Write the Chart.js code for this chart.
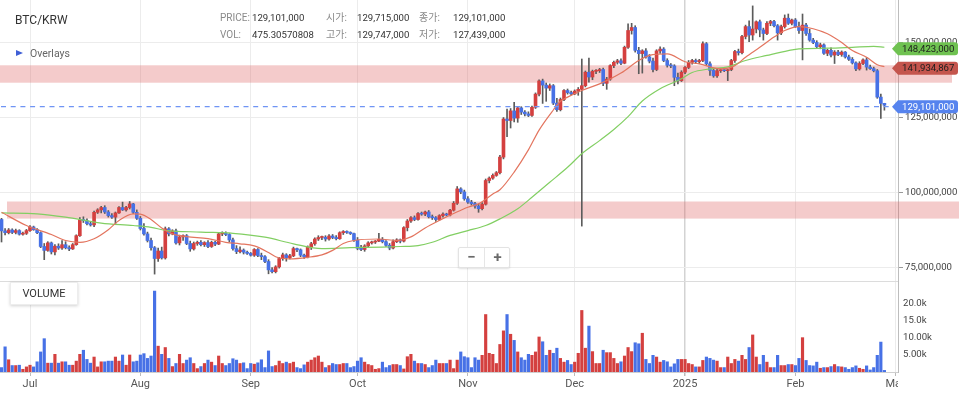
<!DOCTYPE html>
<html><head><meta charset="utf-8">
<script src="https://cdn.jsdelivr.net/npm/chart.js@4/dist/chart.umd.min.js"></script>
<style>
body{margin:0;background:#fff;width:966px;height:396px;overflow:hidden;position:relative;font-family:Roboto,'Noto Sans CJK KR',sans-serif}
#pw{position:absolute;left:0;top:0;width:966px;height:281px}
#vw{position:absolute;left:0;top:281px;width:966px;height:115px}
.t{position:absolute;white-space:nowrap;line-height:12px}
.lb{color:#8a8a8a;font-size:10px}
.vl{color:#333;font-size:9.6px}
#zoombox{position:absolute;left:458px;top:247px;width:50px;height:19px;background:#fff;border:1px solid #e3e3e3;border-radius:2px;box-shadow:0 1px 2px rgba(0,0,0,.12)}
#zoombox span{position:absolute;top:0;width:25px;text-align:center;line-height:19px;font-size:15px;font-weight:bold;color:#6a6a6a}
#volbox{position:absolute;left:10px;top:282px;width:66px;height:21px;background:#fff;border:1px solid #ededed;box-shadow:0 1px 3px rgba(0,0,0,.18);font-size:11px;color:#333;text-align:center;line-height:21px}
</style></head><body>
<div id="pw"><canvas id="price" width="966" height="281"></canvas></div>
<div id="vw"><canvas id="vol" width="966" height="115"></canvas></div>

<div class="t" style="left:15px;top:13px;font-size:12px;color:#333;line-height:14px">BTC/KRW</div>
<div class="t lb" style="left:220px;top:12px">PRICE:</div>
<div class="t vl" style="left:252px;top:12px">129,101,000</div>
<div class="t lb" style="left:326px;top:12px">시가:</div>
<div class="t vl" style="left:357px;top:12px">129,715,000</div>
<div class="t lb" style="left:419px;top:12px">종가:</div>
<div class="t vl" style="left:453px;top:12px">129,101,000</div>
<div class="t lb" style="left:220px;top:29px">VOL:</div>
<div class="t vl" style="left:252px;top:29px">475.30570808</div>
<div class="t lb" style="left:326px;top:29px">고가:</div>
<div class="t vl" style="left:357px;top:29px">129,747,000</div>
<div class="t lb" style="left:419px;top:29px">저가:</div>
<div class="t vl" style="left:453px;top:29px">127,439,000</div>
<div style="position:absolute;left:16px;top:50px;width:0;height:0;border-left:7px solid #3f5fd6;border-top:3.5px solid transparent;border-bottom:3.5px solid transparent"></div>
<div class="t" style="left:30px;top:48px;font-size:10.5px;color:#666">Overlays</div>
<div id="zoombox"><span style="left:0">−</span><span style="left:25px;border-left:1px solid #e6e6e6">+</span></div>
<div id="volbox">VOLUME</div>

<script>
// ---- dates ----
const startDate = '2024-06-23';
const monthStarts = ['2024-07-01','2024-08-01','2024-09-01','2024-10-01','2024-11-01','2024-12-01','2025-01-01','2025-02-01','2025-03-01'];
const monthLabels = ['Jul','Aug','Sep','Oct','Nov','Dec','2025','Feb','Mar'];
const yearStart = '2025-01-01';

// ---- daily OHLC (million KRW), 2024-06-23 .. 2025-02-26 ----
const opens = [
91.0,87.2,86.6,87.5,86.7,87.3,86.1,86.4,87.3,88.5,
87.6,86.6,82.0,80.7,83.2,80.2,82.1,81.5,82.6,81.6,
81.2,82.6,85.6,91.0,90.6,89.6,89.2,93.4,94.2,95.0,
93.5,92.3,91.8,93.2,95.0,94.2,95.0,96.2,93.4,91.4,
88.0,86.2,84.0,81.6,78.0,80.5,78.2,87.9,86.2,87.2,
83.2,85.2,85.6,83.0,81.2,83.0,83.4,82.6,83.3,82.0,
83.4,82.8,86.2,86.4,86.0,84.2,81.3,80.3,80.8,80.1,
79.7,79.1,81.0,79.0,78.6,77.0,74.2,73.6,75.2,78.0,
79.2,78.3,78.9,81.3,80.9,79.1,78.6,81.8,82.9,84.5,
85.0,85.1,84.5,85.5,85.0,84.6,86.6,87.0,86.7,86.3,
84.1,81.4,81.0,82.2,83.2,83.5,83.8,84.4,83.6,82.4,
81.5,83.6,84.2,83.8,88.3,90.5,91.6,91.0,93.0,92.8,
93.5,91.9,91.6,91.0,92.3,92.8,92.5,94.1,96.4,101.2,
100.2,97.9,96.8,96.3,95.5,94.6,96.1,104.0,104.8,105.7,
106.6,111.8,124.5,124.0,127.2,124.8,128.2,126.8,126.2,125.7,
128.4,132.8,137.2,135.8,134.8,135.6,129.8,127.6,131.0,134.0,
133.3,132.9,133.8,134.4,135.6,140.1,138.5,140.4,140.6,141.0,
136.4,137.8,142.3,143.4,143.9,143.1,148.4,154.0,155.0,147.4,
146.3,147.2,145.2,143.8,141.0,147.2,147.8,144.0,142.4,142.2,
138.4,137.3,140.1,141.7,143.4,144.0,143.6,144.0,149.6,142.9,
140.7,138.9,140.6,140.9,140.6,141.0,144.0,147.0,146.6,152.0,
155.3,152.5,154.5,156.9,154.2,153.0,156.4,157.0,155.6,153.2,
155.3,158.1,156.4,157.5,155.3,154.0,155.8,153.0,150.8,150.0,
148.6,149.2,146.4,147.4,145.8,146.8,146.0,146.8,145.2,144.4,
143.2,141.2,143.0,144.2,141.8,141.3,140.6,131.8,129.715];
const highs = [
91.4,88.0,88.0,87.9,87.8,87.6,86.8,87.7,89.0,88.8,
88.0,86.9,83.0,83.6,83.5,82.6,82.9,84.0,83.6,82.2,
83.0,85.9,91.6,91.9,91.2,90.4,93.8,94.6,95.4,95.6,
94.0,93.0,93.5,95.3,96.8,95.4,97.0,96.4,94.2,92.0,
89.6,86.8,84.8,82.0,81.5,81.8,88.5,88.3,87.6,87.8,
85.8,85.9,86.0,83.8,83.5,83.8,84.0,83.6,84.0,83.8,
83.8,86.6,86.9,86.9,86.3,84.8,82.3,81.9,81.2,80.5,
80.0,81.3,81.3,79.8,79.0,77.6,75.0,75.6,78.4,79.8,
79.6,79.4,81.8,81.5,81.2,79.5,82.2,83.4,84.9,85.6,
85.5,85.6,86.0,86.0,85.6,86.9,87.3,87.2,86.9,86.5,
85.0,82.4,82.6,83.6,83.8,84.0,86.4,85.0,84.0,83.0,
84.2,84.6,84.5,88.6,91.0,92.0,92.2,93.3,93.5,93.8,
94.0,92.5,92.0,92.6,93.2,93.1,94.4,97.0,102.0,101.6,
100.8,98.6,97.4,96.7,96.2,96.6,104.5,105.2,106.2,107.0,
112.4,125.0,127.8,128.0,130.1,128.6,128.6,127.3,126.9,128.8,
133.2,137.6,137.8,136.5,136.2,136.0,131.4,131.5,134.3,134.5,
133.8,134.2,135.0,144.5,140.5,144.8,140.8,141.0,141.4,141.5,
138.4,142.6,143.8,144.4,144.6,148.8,156.2,156.4,155.6,148.4,
147.6,148.0,146.0,144.8,147.6,148.6,148.3,144.6,143.0,142.6,
139.8,140.6,142.0,144.0,144.4,144.5,144.4,150.2,150.0,143.6,
141.2,141.4,141.2,141.4,141.0,144.4,147.4,147.8,152.4,155.8,
157.2,162.2,157.2,157.5,154.8,157.0,157.4,157.4,156.0,155.8,
159.2,159.5,157.8,158.0,156.8,159.5,156.4,154.4,151.4,150.6,
149.8,149.6,147.8,148.2,147.3,147.4,147.2,147.0,145.8,145.0,
143.6,143.6,144.6,145.0,142.5,141.8,141.0,132.8,129.747];
const lows = [
83.5,85.9,86.2,86.3,86.2,85.8,85.8,86.0,87.0,87.4,
86.3,81.6,77.6,80.4,79.5,79.2,81.0,81.0,81.2,80.6,
81.0,82.4,85.4,90.0,89.2,88.8,88.6,93.0,93.2,93.0,
91.8,91.4,89.5,93.0,94.0,93.8,94.5,93.0,91.0,87.5,
85.8,83.5,80.8,72.8,77.0,77.8,77.8,85.5,85.9,82.8,
82.5,84.0,82.6,80.4,80.8,82.4,82.2,82.0,81.6,81.7,
82.3,82.6,85.6,85.6,83.5,80.8,79.6,79.9,79.5,79.4,
78.8,78.7,78.6,77.6,76.6,72.9,73.2,73.2,74.8,77.4,
77.1,77.9,78.6,80.3,78.6,78.0,78.2,81.0,82.4,84.0,
84.3,83.8,84.1,84.6,84.2,84.4,86.0,86.4,86.0,83.7,
80.9,80.6,80.4,81.9,82.8,83.0,83.6,83.2,82.0,80.9,
81.2,83.3,83.2,83.5,87.2,90.0,90.6,90.8,92.4,92.3,
91.5,91.0,90.4,90.8,91.8,92.2,92.2,93.8,96.0,99.6,
97.4,96.4,95.8,94.8,93.4,94.2,95.8,103.2,104.4,105.4,
106.2,111.2,118.6,121.5,123.5,123.4,126.0,125.5,125.3,125.4,
128.0,132.2,129.7,130.4,134.0,129.3,127.0,127.2,130.6,132.8,
132.5,132.6,132.4,88.8,135.2,136.8,137.6,139.6,140.0,135.6,
134.4,137.4,141.6,142.8,142.6,142.9,148.0,152.8,146.8,139.6,
139.8,144.8,143.2,140.2,140.6,146.4,143.6,141.8,141.6,135.6,
136.2,137.0,139.6,141.3,142.8,143.0,143.0,143.6,142.4,139.0,
138.4,138.4,140.0,140.3,137.3,140.6,143.4,145.8,146.2,151.2,
150.3,150.8,153.2,151.9,150.8,152.6,155.6,155.2,150.8,152.6,
154.8,156.0,155.9,155.0,153.0,144.2,152.4,150.4,149.6,148.2,
147.9,146.0,145.6,145.2,143.0,145.6,145.4,144.8,144.0,142.8,
140.6,140.8,142.6,140.8,141.0,140.2,131.4,124.7,127.439];
const closes = [
87.2,86.6,87.5,86.7,87.3,86.1,86.4,87.3,88.5,87.6,
86.6,82.0,80.7,83.2,80.2,82.1,81.5,82.6,81.6,81.2,
82.6,85.6,91.0,90.6,89.6,89.2,93.4,94.2,95.0,93.5,
92.3,91.8,93.2,95.0,94.2,95.0,96.2,93.4,91.4,88.0,
86.2,84.0,81.6,78.0,80.5,78.2,87.9,86.2,87.2,83.2,
85.2,85.6,83.0,81.2,83.0,83.4,82.6,83.3,82.0,83.4,
82.8,86.2,86.4,86.0,84.2,81.3,80.3,80.8,80.1,79.7,
79.1,81.0,79.0,78.6,77.0,74.2,73.6,75.2,78.0,79.2,
78.3,78.9,81.3,80.9,79.1,78.6,81.8,82.9,84.5,85.0,
85.1,84.5,85.5,85.0,84.6,86.6,87.0,86.7,86.3,84.1,
81.4,81.0,82.2,83.2,83.5,83.8,84.4,83.6,82.4,81.5,
83.6,84.2,83.8,88.3,90.5,91.6,91.0,93.0,92.8,93.5,
91.9,91.6,91.0,92.3,92.8,92.5,94.1,96.4,101.2,100.2,
97.9,96.8,96.3,95.5,94.6,96.1,104.0,104.8,105.7,106.6,
111.8,124.5,124.0,127.2,124.8,128.2,126.8,126.2,125.7,128.4,
132.8,137.2,135.8,134.8,135.6,129.8,127.6,131.0,134.0,133.3,
132.9,133.8,134.4,135.6,140.1,138.5,140.4,140.6,141.0,136.4,
137.8,142.3,143.4,143.9,143.1,148.4,154.0,155.0,147.4,146.3,
147.2,145.2,143.8,141.0,147.2,147.8,144.0,142.4,142.2,138.4,
137.3,140.1,141.7,143.4,144.0,143.6,144.0,149.6,142.9,140.7,
138.9,140.6,140.9,140.6,140.8,144.0,147.0,146.6,152.0,155.3,
152.5,154.5,156.9,154.2,153.0,156.4,157.0,155.6,153.2,155.3,
158.1,156.4,157.5,155.3,154.0,155.8,153.0,150.8,150.0,148.6,
149.2,146.4,147.4,145.8,146.8,146.0,146.8,145.2,144.4,143.2,
141.2,143.0,144.2,141.8,141.3,140.6,131.8,129.7,129.101];
// ---- daily volume (thousand BTC) ----
const volumes = [
1.3,7.4,3.6,1.9,1.9,2.0,0.8,1.5,2.0,1.5,
3.0,5.9,9.8,2.6,2.6,5.2,2.6,3.0,3.0,2.0,
2.0,3.2,5.2,6.4,3.7,2.6,4.4,1.5,3.0,3.0,
3.2,3.2,4.4,3.2,5.0,2.0,5.0,3.0,3.2,5.0,
5.4,4.0,4.7,23.8,7.6,5.2,7.2,4.0,1.6,2.5,
5.2,2.5,3.5,4.2,2.5,1.0,1.6,2.5,3.5,2.9,
1.9,4.7,2.5,1.9,2.5,3.9,3.5,2.5,2.7,1.0,
2.5,2.3,2.7,3.6,1.3,6.2,1.6,1.9,3.2,2.5,
2.9,2.5,2.9,1.3,1.0,2.1,2.9,3.5,4.2,4.7,
2.9,1.3,1.9,2.5,2.2,2.2,2.5,2.5,1.3,1.6,
3.2,4.2,2.9,2.2,1.9,0.8,1.0,2.9,1.3,1.9,
2.2,2.2,1.9,0.9,4.5,5.2,3.2,2.5,2.5,2.2,
1.3,1.9,3.5,2.5,2.5,2.5,3.5,1.0,3.5,5.9,
4.5,4.2,1.3,4.2,3.5,4.9,16.9,5.5,5.2,2.5,
8.1,12.1,16.9,11.1,9.3,5.9,4.2,3.5,5.2,4.9,
5.9,10.3,8.9,4.9,6.4,5.5,7.0,4.0,2.9,3.4,
2.2,2.9,5.5,18.1,7.0,13.5,6.0,2.5,2.5,6.4,
5.7,5.7,4.0,2.5,3.0,4.7,7.2,6.0,8.6,8.3,
11.4,3.7,2.5,4.9,4.4,2.9,3.4,3.0,1.5,2.4,
3.7,3.7,3.7,2.5,2.2,1.5,1.5,3.4,4.4,4.0,
3.5,3.2,1.3,1.3,4.4,2.5,3.7,3.2,4.9,3.7,
7.2,10.9,4.4,2.2,4.9,2.9,1.3,1.3,4.9,1.9,
1.9,2.2,2.2,1.9,4.0,10.1,3.4,1.9,1.8,2.9,
1.1,1.3,1.3,1.6,2.2,1.6,1.5,1.3,0.8,1.3,
1.8,1.1,0.8,1.8,0.6,1.3,4.9,8.8,0.475];

// ---- moving averages (day index from start, million KRW) ----
const maShortDays = [0,7,14,18,22,26,30,33,37,39,42,45,48,52,58,63,67,71,75,77,81,86,90,93,96,99,106,111,115,119,123,127,131,134,138,140,144,148,151,155,157,159,163,168,174,179,182,187,192,196,202,206,209,213,217,220,224,228,232,236,239,243,246,248];
const maShortValues = [93.4,89.0,86.0,84.0,83.4,84.6,87.6,90.7,92.9,92.8,91.0,88.2,86.2,85.3,84.6,83.4,82.9,82.2,80.0,78.6,77.9,78.4,79.2,80.7,83.0,84.0,84.5,84.0,85.2,88.2,90.7,93.0,95.1,96.2,99.5,100.9,106.8,114.2,120.8,127.5,130.4,131.8,134.0,136.2,139.8,144.0,145.7,146.2,143.6,142.9,141.2,142.3,145.1,148.4,151.8,154.0,155.3,154.6,152.9,150.0,147.3,145.1,142.6,141.934867];
const maLongDays = [0,10,18,28,37,42,46,56,65,74,82,90,98,107,112,117,121,126,131,136,140,145,149,154,159,163,168,172,176,180,185,191,194,199,204,209,215,221,224,232,239,245,248];
const maLongValues = [93.2,92.9,91.8,89.8,89.0,88.4,87.4,86.8,86.4,85.1,82.9,81.3,81.6,81.8,82.0,82.3,83.4,85.7,87.3,89.0,91.2,94.6,98.4,103.4,108.4,112.9,117.3,121.0,125.3,130.5,134.6,137.9,140.0,141.2,141.9,144.0,145.7,147.3,147.9,148.1,148.4,148.7,148.423];

// ---- zones / ticks ----
const zoneLows = [136.6, 91.3];
const zoneHighs = [142.4, 97.0];
const priceTicks = [75, 100, 125, 150];
const volTicks = [5, 10, 15, 20];
const volTickLabels = ['5.00k', '10.00k', '15.0k', '20.0k'];

// ---- helpers ----
const DAY = 86400000;
const dayIndex = s => Math.round((Date.parse(s) - Date.parse(startDate)) / DAY);
const monthDays = monthStarts.map(dayIndex);
const yearDay = dayIndex(yearStart);
const X_MIN = -0.427, X_MAX = 251.82;
const RED = '#d4403f', BLUE = '#4771e6';
const candleColors = closes.map((c, i) => c >= opens[i] ? RED : BLUE);
const fmt = v => Math.round(v * 1e6).toLocaleString('en-US');
const AXIS_W = 68;

function xScale(drawTicks) {
  return {
    type: 'linear', min: X_MIN, max: X_MAX, offset: false, position: 'bottom',
    grid: { offset: false, drawTicks: drawTicks, tickLength: 4, tickColor: '#bbb',
      color: c => (c.tick && c.tick.value === yearDay) ? '#d3d3d3' : '#ececec',
      lineWidth: c => (c.tick && c.tick.value === yearDay) ? 1.5 : 1 },
    border: { display: drawTicks, color: '#cfcfcf' },
    ticks: { display: false },
    afterBuildTicks: s => { s.ticks = monthDays.map(v => ({ value: v })); },
    afterFit: s => { s.height = drawTicks ? 24 : 0; s.paddingLeft = 0; s.paddingRight = 0; }
  };
}
function yFit(s) { s.width = AXIS_W; s.paddingTop = 0; s.paddingBottom = 0; }

const zonesPlugin = {
  id: 'zones',
  beforeDatasetsDraw(chart) {
    const ctx = chart.ctx, ys = chart.scales.y;
    ctx.save();
    ctx.fillStyle = 'rgba(222,92,92,0.32)';
    const lefts = [0, 7], rights = [952, 959];
    zoneLows.forEach((lo, k) => {
      const y1 = ys.getPixelForValue(zoneHighs[k]), y2 = ys.getPixelForValue(lo);
      ctx.fillRect(lefts[k], y1, rights[k] - lefts[k], y2 - y1);
    });
    ctx.restore();
  },
  afterDatasetsDraw(chart) {
    const ctx = chart.ctx, ys = chart.scales.y;
    const y = ys.getPixelForValue(closes[closes.length - 1]) + 1.5;
    ctx.save();
    ctx.strokeStyle = '#6f94f4'; ctx.lineWidth = 1.2; ctx.setLineDash([5, 4.7]);
    ctx.beginPath(); ctx.moveTo(1, y); ctx.lineTo(892, y); ctx.stroke();
    ctx.restore();
  }
};

function drawTag(ctx, y, text, bg, fg) {
  const x0 = 892, x1 = 898, x2 = 958, h = 13, r = 3;
  ctx.beginPath();
  ctx.moveTo(x0, y);
  ctx.lineTo(x1, y - h / 2);
  ctx.lineTo(x2 - r, y - h / 2);
  ctx.quadraticCurveTo(x2, y - h / 2, x2, y - h / 2 + r);
  ctx.lineTo(x2, y + h / 2 - r);
  ctx.quadraticCurveTo(x2, y + h / 2, x2 - r, y + h / 2);
  ctx.lineTo(x1, y + h / 2);
  ctx.closePath();
  ctx.fillStyle = bg; ctx.fill();
  ctx.fillStyle = fg; ctx.font = '9.6px Roboto'; ctx.textAlign = 'left'; ctx.textBaseline = 'middle';
  ctx.fillText(text, 902, y + 0.5);
}

const tagsPlugin = {
  id: 'tags',
  afterDraw(chart) {
    const ctx = chart.ctx, ys = chart.scales.y;
    ctx.save();
    const g = maLongValues[maLongValues.length - 1];
    const r = maShortValues[maShortValues.length - 1];
    const p = closes[closes.length - 1];
    drawTag(ctx, ys.getPixelForValue(g) + 1.5, fmt(g), '#6fc251', '#1d1d1d');
    drawTag(ctx, ys.getPixelForValue(r) + 1.5, fmt(r), '#c4554d', '#1d1d1d');
    drawTag(ctx, ys.getPixelForValue(p) + 1.5, fmt(p), '#5683ee', '#ffffff');
    ctx.restore();
  }
};

new Chart(document.getElementById('price'), {
  type: 'bar',
  data: {
    datasets: [
      { type: 'line', data: maShortDays.map((x, k) => ({ x, y: maShortValues[k] })),
        borderColor: '#e3755f', borderWidth: 1.2, pointRadius: 0, cubicInterpolationMode: 'monotone', order: 0 },
      { type: 'line', data: maLongDays.map((x, k) => ({ x, y: maLongValues[k] })),
        borderColor: '#82cf63', borderWidth: 1.2, pointRadius: 0, cubicInterpolationMode: 'monotone', order: 0 },
      { data: closes.map((c, i) => ({ x: i, y: [opens[i], c] })), backgroundColor: candleColors,
        barThickness: 3, minBarLength: 1, grouped: false, order: 1 },
      { data: lows.map((l, i) => ({ x: i, y: [l, highs[i]] })), backgroundColor: '#5b5b5b',
        barThickness: 1, grouped: false, order: 2 }
    ]
  },
  options: {
    responsive: false, animation: false, events: [],
    layout: { padding: 0 },
    plugins: { legend: { display: false }, tooltip: { enabled: false } },
    scales: {
      x: xScale(false),
      y: {
        type: 'linear', position: 'right', min: 70.5, max: 164.17,
        grid: { color: '#ececec', drawTicks: true, tickLength: 5, tickColor: '#999' },
        border: { display: true, color: '#bdbdbd' },
        ticks: { font: { family: 'Roboto', size: 9.6 }, color: '#444', padding: 2, callback: v => fmt(v) },
        afterBuildTicks: s => { s.ticks = priceTicks.map(v => ({ value: v })); },
        afterFit: yFit
      }
    }
  },
  plugins: [zonesPlugin, tagsPlugin]
});

const volPlugin = {
  id: 'volframe',
  afterDraw(chart) {
    const ctx = chart.ctx, a = chart.chartArea, xs = chart.scales.x;
    ctx.save();
    ctx.strokeStyle = '#dcdcdc'; ctx.lineWidth = 1;
    ctx.beginPath(); ctx.moveTo(0, 0.5); ctx.lineTo(a.right, 0.5); ctx.stroke();
    ctx.beginPath(); ctx.rect(0, a.bottom, a.right, 30); ctx.clip();
    ctx.font = '11px Roboto'; ctx.fillStyle = '#555'; ctx.textAlign = 'center'; ctx.textBaseline = 'middle';
    monthLabels.forEach((t, k) => ctx.fillText(t, xs.getPixelForValue(monthDays[k]), a.bottom + 12.5));
    ctx.restore();
  }
};

new Chart(document.getElementById('vol'), {
  type: 'bar',
  data: {
    datasets: [
      { data: volumes.map((v, i) => ({ x: i, y: v })), backgroundColor: candleColors,
        barThickness: 2.5, grouped: false }
    ]
  },
  options: {
    responsive: false, animation: false, events: [],
    layout: { padding: 0 },
    plugins: { legend: { display: false }, tooltip: { enabled: false } },
    scales: {
      x: xScale(true),
      y: {
        type: 'linear', position: 'right', min: 0, max: 26.76,
        grid: { display: false, drawTicks: false },
        border: { display: true, color: '#bdbdbd' },
        ticks: { font: { family: 'Roboto', size: 9.6 }, color: '#444', padding: 5,
          callback: v => volTickLabels[volTicks.indexOf(v)] },
        afterBuildTicks: s => { s.ticks = volTicks.map(v => ({ value: v })); },
        afterFit: yFit
      }
    }
  },
  plugins: [volPlugin]
});
</script>
</body></html>
